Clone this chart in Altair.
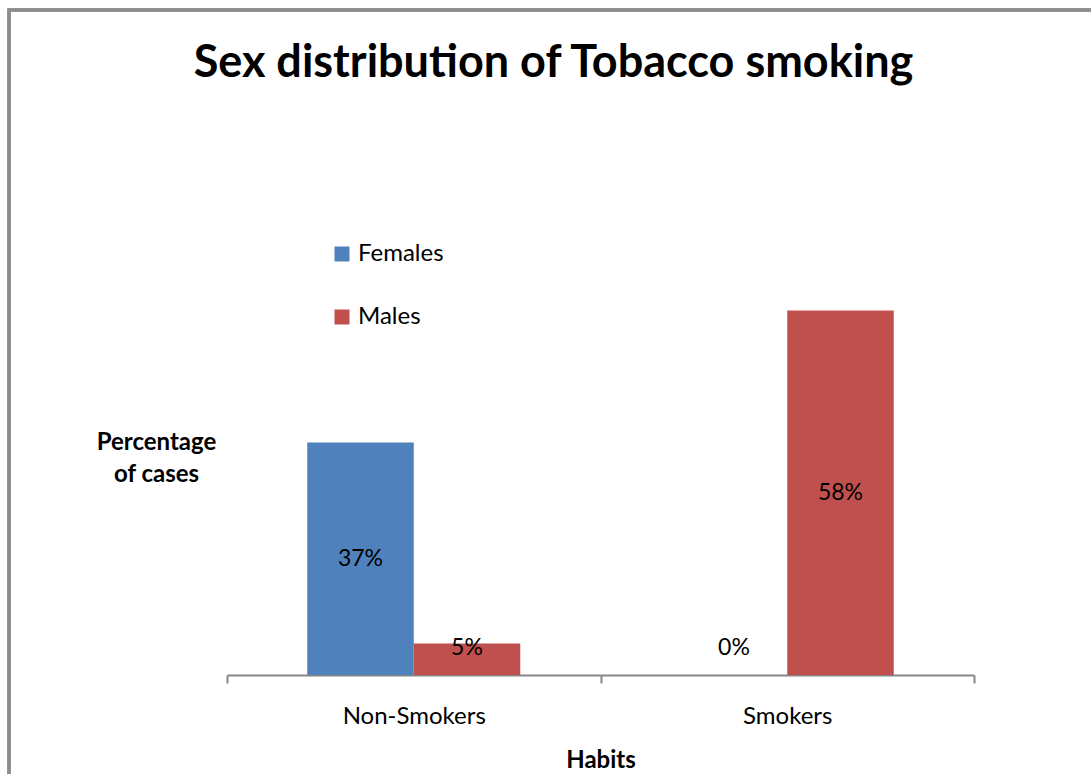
import altair as alt
import pandas as pd

habits = ["Non-Smokers", "Smokers"]
sexes = ["Females", "Males"]
females = [37, 0]
males = [5, 58]
colors = ["#4F81BD", "#C0504D"]

rows = []
for h, f, m in zip(habits, females, males):
    rows.append({"Habits": h, "Sex": "Females", "Pct": f, "Label": f"{f}%"})
    rows.append({"Habits": h, "Sex": "Males", "Pct": m, "Label": f"{m}%"})
df = pd.DataFrame(rows)

FONT = "Lato"
W, H = 747, 440
LEFT, TOP = 227, 235
AXIS_GRAY = "#868686"

x = alt.X(
    "Habits:N",
    sort=habits,
    scale=alt.Scale(paddingInner=0, paddingOuter=0),
    axis=alt.Axis(
        title="Habits",
        labelAngle=0,
        tickBand="extent",
        tickSize=8,
        tickColor=AXIS_GRAY,
        tickWidth=2,
        domainColor=AXIS_GRAY,
        domainWidth=2,
        labelFont=FONT,
        labelFontSize=24,
        labelColor="black",
        labelPadding=21,
        titleFont=FONT,
        titleFontSize=24,
        titleFontWeight="bold",
        titleColor="black",
        titlePadding=20,
        grid=False,
    ),
)
xoff = alt.XOffset("Sex:N", sort=sexes, scale=alt.Scale(paddingOuter=0.7535, paddingInner=0))
y = alt.Y(
    "Pct:Q",
    scale=alt.Scale(domain=[0, 70], nice=False),
    axis=alt.Axis(
        labels=False,
        ticks=False,
        domain=False,
        grid=False,
        title=["Percentage", "of cases"],
        titleAngle=0,
        titleAlign="center",
        titleBaseline="top",
        titleX=-71,
        titleY=195,
        titleFont=FONT,
        titleFontSize=24,
        titleFontWeight="bold",
        titleColor="black",
        titleLineHeight=32,
    ),
)
color = alt.Color(
    "Sex:N",
    sort=sexes,
    scale=alt.Scale(domain=sexes, range=colors),
    legend=alt.Legend(
        title=None,
        orient="none",
        legendX=103,
        legendY=7,
        symbolType="square",
        symbolSize=225,
        symbolStrokeWidth=0,
        labelFont=FONT,
        labelFontSize=24,
        labelColor="black",
        labelOffset=4,
        rowPadding=39,
    ),
)

bars = alt.Chart(df).mark_bar(size=106.5).encode(x=x, xOffset=xoff, y=y, color=color)

labels = (
    alt.Chart(df)
    .transform_calculate(ly="max(datum.Pct / 2, 4.3)")
    .mark_text(font=FONT, fontSize=23, color="black", baseline="middle")
    .encode(x=x, xOffset=xoff, y=alt.Y("ly:Q"), text="Label:N")
)

border = alt.Chart(df).mark_rect(fill=None, stroke="#8c8c8c", strokeWidth=3).encode(
    x=alt.value(9 - LEFT), x2=alt.value(1200 - LEFT), y=alt.value(10 - TOP), y2=alt.value(900 - TOP)
)

chart = (
    alt.layer(border, bars, labels)
    .properties(
        width=W,
        height=H,
        padding={"left": LEFT, "top": TOP, "right": 1091 - LEFT - W, "bottom": 774 - TOP - H},
        autosize=alt.AutoSizeParams(type="none"),
        background="white",
        title=alt.TitleParams(
            "Sex distribution of Tobacco smoking",
            font=FONT,
            fontSize=45,
            fontWeight="bold",
            color="black",
            anchor="middle",
            frame="group",
            dx=-47,
            baseline="alphabetic",
            offset=-113,
        ),
    )
    .configure_view(stroke=None)
)

chart.save("out.html", embed_options={"renderer": "svg", "actions": False})
